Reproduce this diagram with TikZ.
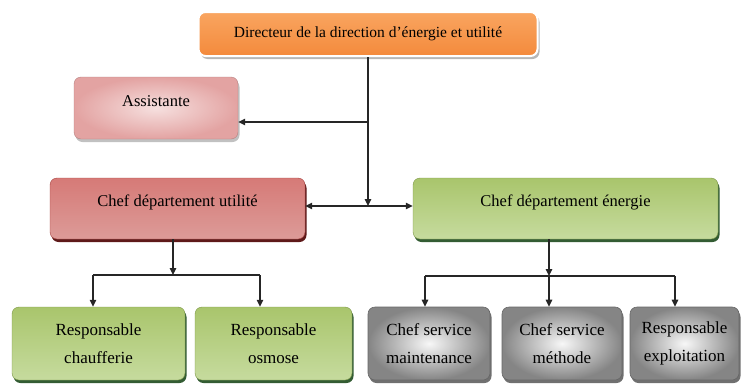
\documentclass[tikz,border=0pt]{standalone}
\usepackage{fontspec}
\setmainfont{Liberation Serif}
\usetikzlibrary{arrows.meta, shadows}

\definecolor{orgtop}{HTML}{F9A560}
\definecolor{orgbot}{HTML}{F48A3C}
\definecolor{pinkout}{HTML}{E3A3A2}
\definecolor{pinkin}{HTML}{F6E0DF}
\definecolor{redtop}{HTML}{D67A77}
\definecolor{redmid}{HTML}{C4504D}
\definecolor{redbot}{HTML}{DC9B98}
\definecolor{greentop}{HTML}{A9C56C}
\definecolor{greenmid}{HTML}{9BBB59}
\definecolor{greenbot}{HTML}{C6DB9E}

\tikzset{
  orgbox/.style={rounded corners=7pt, inner sep=0pt, align=center},
  dirbox/.style={orgbox, draw=white, line width=2pt, top color=orgtop, bottom color=orgbot,
    font=\fontsize{15.5}{19}\selectfont,
    drop shadow={shadow xshift=2pt, shadow yshift=-3pt, fill=black!40, opacity=0.7}},
  assbox/.style={orgbox, draw=pinkout!80!black, line width=0.4pt, inner color=pinkin, outer color=pinkout,
    font=\fontsize{16.5}{20}\selectfont,
    drop shadow={shadow xshift=1.5pt, shadow yshift=-3pt, fill=black!35, opacity=0.7}},
  redbox/.style={orgbox, draw=redmid!85!black, line width=0.4pt, top color=redtop, middle color=redmid, bottom color=redbot,
    font=\fontsize{16.5}{20}\selectfont,
    drop shadow={shadow xshift=1.5pt, shadow yshift=-3pt, fill=red!30!black, opacity=0.9}},
  greenbox/.style={orgbox, draw=greenmid!80!black, line width=0.4pt, top color=greentop, middle color=greenmid, bottom color=greenbot,
    font=\fontsize{16.5}{20}\selectfont,
    drop shadow={shadow xshift=1.5pt, shadow yshift=-3pt, fill=green!20!black, opacity=0.8}},
  leafbox/.style={greenbox, font=\fontsize{17}{28}\selectfont, minimum height=73pt},
  greybox/.style={orgbox, draw=black!60, line width=0.6pt, inner color=black!3, outer color=black!48,
    font=\fontsize{17}{28}\selectfont, minimum height=73pt,
    drop shadow={shadow xshift=1.5pt, shadow yshift=-3pt, fill=black!70, opacity=0.8}},
  link/.style={line width=1.1pt, black!85, -{Triangle[length=7pt, width=6.5pt]}}
}

\begin{document}
\begin{tikzpicture}[x=1pt, y=-1pt]
\useasboundingbox (0,0) rectangle (741,383);

\node[dirbox, minimum width=339pt, text height=25pt, text depth=19pt] (dir) at (368,34) {Directeur de la direction d’énergie et utilité};
\node[assbox, minimum width=164pt, text height=29.5pt, text depth=32.5pt] (assist) at (156,108) {Assistante};
\node[redbox, minimum width=255pt, text height=28.5pt, text depth=32.5pt] (util) at (177.5,208.5) {Chef département utilité};
\node[greenbox, minimum width=305pt, text height=28.5pt, text depth=32.5pt] (energ) at (565.5,208.5) {Chef département énergie};

\node[leafbox, minimum width=173pt] (chauf) at (98.5,343.5) {Responsable\\chaufferie};
\node[leafbox, minimum width=157pt] (osmo) at (273.5,343.5) {Responsable\\osmose};
\node[greybox, minimum width=122pt] (maint) at (429,343.5) {Chef service\\maintenance};
\node[greybox, minimum width=120pt] (meth) at (562,343.5) {Chef service\\méthode};
\node[greybox, minimum width=109pt] (expl) at (684.5,343.5) {Responsable\\exploitation};

\coordinate (hub) at (368,206);
\coordinate (sec) at (368,122);
\coordinate (uj) at (173,275);
\coordinate (ul) at (93,275);
\coordinate (ur) at (260,275);
\coordinate (ej) at (549,276);
\coordinate (el) at (425,276);
\coordinate (er) at (675,276);

\draw[link] (dir.south) -- (hub);
\draw[link] (sec) -- (sec -| assist.east);
\draw[link] (hub) -- (hub -| util.east);
\draw[link] (hub) -- (hub -| energ.west);

\draw[link] (uj |- util.south) -- (uj);
\draw[link, -] (ul) -- (ur);
\draw[link] (ul) -- (ul |- chauf.north);
\draw[link] (ur) -- (ur |- osmo.north);

\draw[link] (ej |- energ.south) -- (ej);
\draw[link, -] (el) -- (er);
\draw[link] (el) -- (el |- maint.north);
\draw[link] (ej) -- (ej |- meth.north);
\draw[link] (er) -- (er |- expl.north);

\end{tikzpicture}
\end{document}
